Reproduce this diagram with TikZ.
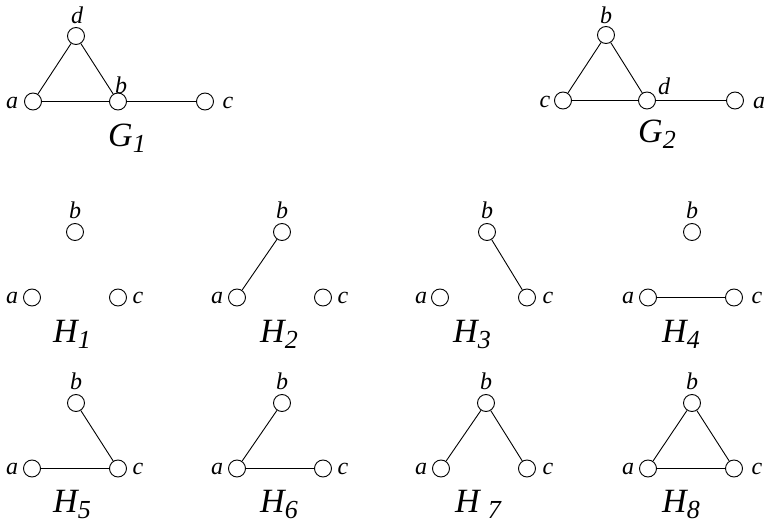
\documentclass[tikz,border=0pt]{standalone}
\usepackage{fontspec}
\setmainfont{Liberation Serif}
\newcommand\subs[1]{\raisebox{-6pt}{\fontsize{26}{28}\selectfont #1}}
\begin{document}
\begin{tikzpicture}[x=1pt,y=-1pt,
 vtx/.style={circle,draw,line width=0.9pt,minimum size=17pt,inner sep=0pt},
 edge/.style={line width=0.9pt},
 lbl/.style={inner sep=0pt,font=\fontsize{24}{26}\selectfont\itshape},
 glbl/.style={inner sep=0pt,font=\fontsize{34}{36}\selectfont\itshape,anchor=base west}]
\useasboundingbox (0,0) rectangle (764,524);

% ---------- G1 ----------
\node[vtx] (g1d) at (76,36) {};
\node[vtx] (g1a) at (33,101.5) {};
\node[vtx] (g1b) at (118,101.5) {};
\node[vtx] (g1c) at (205,101.5) {};
\draw[edge] (g1a) -- (g1d) -- (g1b) -- (g1a);
\draw[edge] (g1b) -- (g1c);
\node[lbl] (g1dl) at (77,15) {d};
\node[lbl] (g1al) at (12,103) {a};
\node[lbl] (g1bl) at (121,85) {b};
\node[lbl] (g1cl) at (228,103) {c};
\node[glbl] (g1n) at (108,147) {G\subs{1}};

% ---------- G2 ----------
\node[vtx] (g2b) at (606,35) {};
\node[vtx] (g2c) at (563,100.5) {};
\node[vtx] (g2d) at (647,100.5) {};
\node[vtx] (g2a) at (735,100.5) {};
\draw[edge] (g2c) -- (g2b) -- (g2d) -- (g2c);
\draw[edge] (g2d) -- (g2a);
\node[lbl] (g2bl) at (606,15) {b};
\node[lbl] (g2cl) at (545,102) {c};
\node[lbl] (g2dl) at (664,86) {d};
\node[lbl] (g2al) at (759,103) {a};
\node[glbl] (g2n) at (638,143) {G\subs{2}};

% ---------- Row 2 ----------
% H1
\node[vtx] (h1b) at (75,232) {};
\node[vtx] (h1a) at (32,297.5) {};
\node[vtx] (h1c) at (118,297.5) {};
\node[lbl] (h1bl) at (75,210) {b};
\node[lbl] (h1al) at (12,298) {a};
\node[lbl] (h1cl) at (138,298) {c};
\node[glbl] (h1n) at (53,342) {H\subs{1}};
% H2
\node[vtx] (h2b) at (282,232) {};
\node[vtx] (h2a) at (237,297.5) {};
\node[vtx] (h2c) at (323,297.5) {};
\draw[edge] (h2a) -- (h2b);
\node[lbl] (h2bl) at (282,210) {b};
\node[lbl] (h2al) at (217,298) {a};
\node[lbl] (h2cl) at (343,298) {c};
\node[glbl] (h2n) at (260,342) {H\subs{2}};
% H3
\node[vtx] (h3b) at (487,232) {};
\node[vtx] (h3a) at (440,297.5) {};
\node[vtx] (h3c) at (527,297.5) {};
\draw[edge] (h3b) -- (h3c);
\node[lbl] (h3bl) at (487,210) {b};
\node[lbl] (h3al) at (421,298) {a};
\node[lbl] (h3cl) at (548,298) {c};
\node[glbl] (h3n) at (453,342) {H\subs{3}};
% H4
\node[vtx] (h4b) at (692,232) {};
\node[vtx] (h4a) at (648,297.5) {};
\node[vtx] (h4c) at (734,297.5) {};
\draw[edge] (h4a) -- (h4c);
\node[lbl] (h4bl) at (692,210) {b};
\node[lbl] (h4al) at (628,298) {a};
\node[lbl] (h4cl) at (757,298) {c};
\node[glbl] (h4n) at (662,342) {H\subs{4}};

% ---------- Row 3 ----------
% H5
\node[vtx] (h5b) at (76,403) {};
\node[vtx] (h5a) at (32,468.5) {};
\node[vtx] (h5c) at (118,468.5) {};
\draw[edge] (h5b) -- (h5c) -- (h5a);
\node[lbl] (h5bl) at (76,381) {b};
\node[lbl] (h5al) at (12,469) {a};
\node[lbl] (h5cl) at (138,469) {c};
\node[glbl] (h5n) at (53,512) {H\subs{5}};
% H6
\node[vtx] (h6b) at (282,403) {};
\node[vtx] (h6a) at (237,468.5) {};
\node[vtx] (h6c) at (323,468.5) {};
\draw[edge] (h6b) -- (h6a) -- (h6c);
\node[lbl] (h6bl) at (282,381) {b};
\node[lbl] (h6al) at (217,469) {a};
\node[lbl] (h6cl) at (343,469) {c};
\node[glbl] (h6n) at (260,512) {H\subs{6}};
% H7
\node[vtx] (h7b) at (486,403) {};
\node[vtx] (h7a) at (441,468.5) {};
\node[vtx] (h7c) at (527,468.5) {};
\draw[edge] (h7a) -- (h7b) -- (h7c);
\node[lbl] (h7bl) at (486,381) {b};
\node[lbl] (h7al) at (421,469) {a};
\node[lbl] (h7cl) at (548,469) {c};
\node[glbl] (h7n) at (455,512) {H\kern8pt\subs{7}};
% H8
\node[vtx] (h8b) at (692,403) {};
\node[vtx] (h8a) at (648,468.5) {};
\node[vtx] (h8c) at (734,468.5) {};
\draw[edge] (h8a) -- (h8b) -- (h8c) -- (h8a);
\node[lbl] (h8bl) at (692,381) {b};
\node[lbl] (h8al) at (628,469) {a};
\node[lbl] (h8cl) at (757,469) {c};
\node[glbl] (h8n) at (662,512) {H\subs{8}};
\end{tikzpicture}
\end{document}
